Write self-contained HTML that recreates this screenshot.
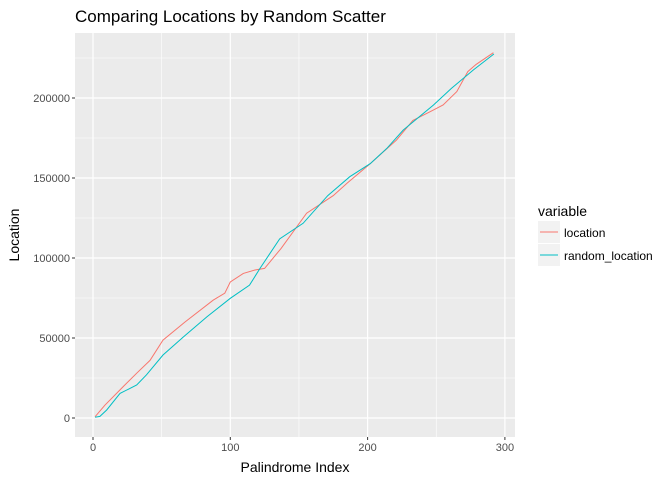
<!DOCTYPE html>
<html><head><meta charset="utf-8">
<style>
body{margin:0;background:#fff;}
svg{display:block;font-family:"Liberation Sans",Arial,sans-serif;}
</style></head>
<body>
<svg id="chart" width="672" height="480" viewBox="0 0 672 480">
<text x="75" y="22" font-size="17" fill="#000">Comparing Locations by Random Scatter</text>
<rect x="75" y="33" width="440" height="404" fill="#ebebeb"/>
<g id="grid"></g>
<g id="series"></g>
<g id="axes"></g>
<text x="295" y="472" font-size="14" text-anchor="middle" fill="#000">Palindrome Index</text>
<text transform="translate(19,235) rotate(-90)" font-size="14" text-anchor="middle" fill="#000">Location</text>
<g>
<text x="538" y="216" font-size="14" fill="#000">variable</text>
<g>
<rect x="538" y="221" width="22" height="22" fill="#f2f2f2"/>
<line x1="540" y1="232" x2="558" y2="232" stroke="#F8766D" stroke-width="1"/>
<text x="564" y="237" font-size="12" fill="#000">location</text>
</g>
<g>
<rect x="538" y="244" width="22" height="22" fill="#f2f2f2"/>
<line x1="540" y1="255" x2="558" y2="255" stroke="#00BFC4" stroke-width="1"/>
<text x="564" y="260" font-size="12" fill="#000">random_location</text>
</g>
</g>
</svg>
<script>
const locIdx = [1.5, 8.7, 22, 31.8, 41.5, 51, 67, 87.6, 96, 100, 109.5, 118, 125, 137, 155.6, 175, 185, 202, 221, 233, 245.4, 255, 265, 273, 279, 291.6];
const locVal = [0.8, 8, 19.6, 28, 36, 48.7, 60, 73.7, 78, 85, 90.4, 92.5, 93.5, 106, 128, 139, 146.7, 159, 173.7, 186, 191.4, 195.6, 204, 216.5, 221, 228.3];
const rndIdx = [1.5, 5, 10, 19.7, 31.8, 39, 51, 66, 83, 100, 114, 121.6, 136, 153, 171, 187, 202, 214, 226, 248, 261, 277, 292];
const rndVal = [0.5, 1, 5, 15.4, 20.6, 27, 39.4, 50.8, 63.3, 74.8, 83, 93.5, 112, 121.7, 139, 150.8, 159, 168.5, 180, 195.6, 206, 217.5, 227.5];
const xTicks = [0, 100, 200, 300];
const xMinor = [50, 150, 250];
const yTicks = [0, 50000, 100000, 150000, 200000];
const yMinor = [25000, 75000, 125000, 175000, 225000];

const NS = "http://www.w3.org/2000/svg";
const X = v => 93 + v * 1.373;
const Y = v => 418 - v * 0.0016;
function mk(tag, attrs, parent){const e=document.createElementNS(NS,tag);for(const k in attrs)e.setAttribute(k,attrs[k]);parent.appendChild(e);return e;}
const grid=document.getElementById('grid'), axes=document.getElementById('axes'), series=document.getElementById('series');
xMinor.forEach(v=>{const l=mk('line',{x1:X(v),x2:X(v),y1:33,y2:437,stroke:'#fff','stroke-width':0.6},grid);

});
yMinor.forEach(v=>{if(Y(v)<33)return;const l=mk('line',{x1:75,x2:515,y1:Y(v),y2:Y(v),stroke:'#fff','stroke-width':0.6},grid);

});
xTicks.forEach(v=>{const l=mk('line',{x1:X(v),x2:X(v),y1:33,y2:437,stroke:'#fff','stroke-width':1.2},grid);


const t=mk('line',{x1:X(v),x2:X(v),y1:437,y2:440,stroke:'#333','stroke-width':1},axes);


const tx=mk('text',{x:X(v),y:451,'font-size':11,'text-anchor':'middle',fill:'#4d4d4d'},axes);tx.textContent=v;

});
yTicks.forEach(v=>{const l=mk('line',{x1:75,x2:515,y1:Y(v),y2:Y(v),stroke:'#fff','stroke-width':1.2},grid);


const t=mk('line',{x1:72,x2:75,y1:Y(v),y2:Y(v),stroke:'#333','stroke-width':1},axes);


const tx=mk('text',{x:70,y:Y(v)+4,'font-size':11,'text-anchor':'end',fill:'#4d4d4d'},axes);tx.textContent=v;

});
function draw(idx,val,color,name){
 const pts=idx.map((x,i)=>X(x).toFixed(1)+','+Y(val[i]*1000).toFixed(1)).join(' ');
 const p=mk('polyline',{points:pts,fill:'none',stroke:color,'stroke-width':1},series);
 
 
}
draw(locIdx,locVal,'#F8766D','location-line');
draw(rndIdx,rndVal,'#00BFC4','random-location-line');
</script>
</body></html>
